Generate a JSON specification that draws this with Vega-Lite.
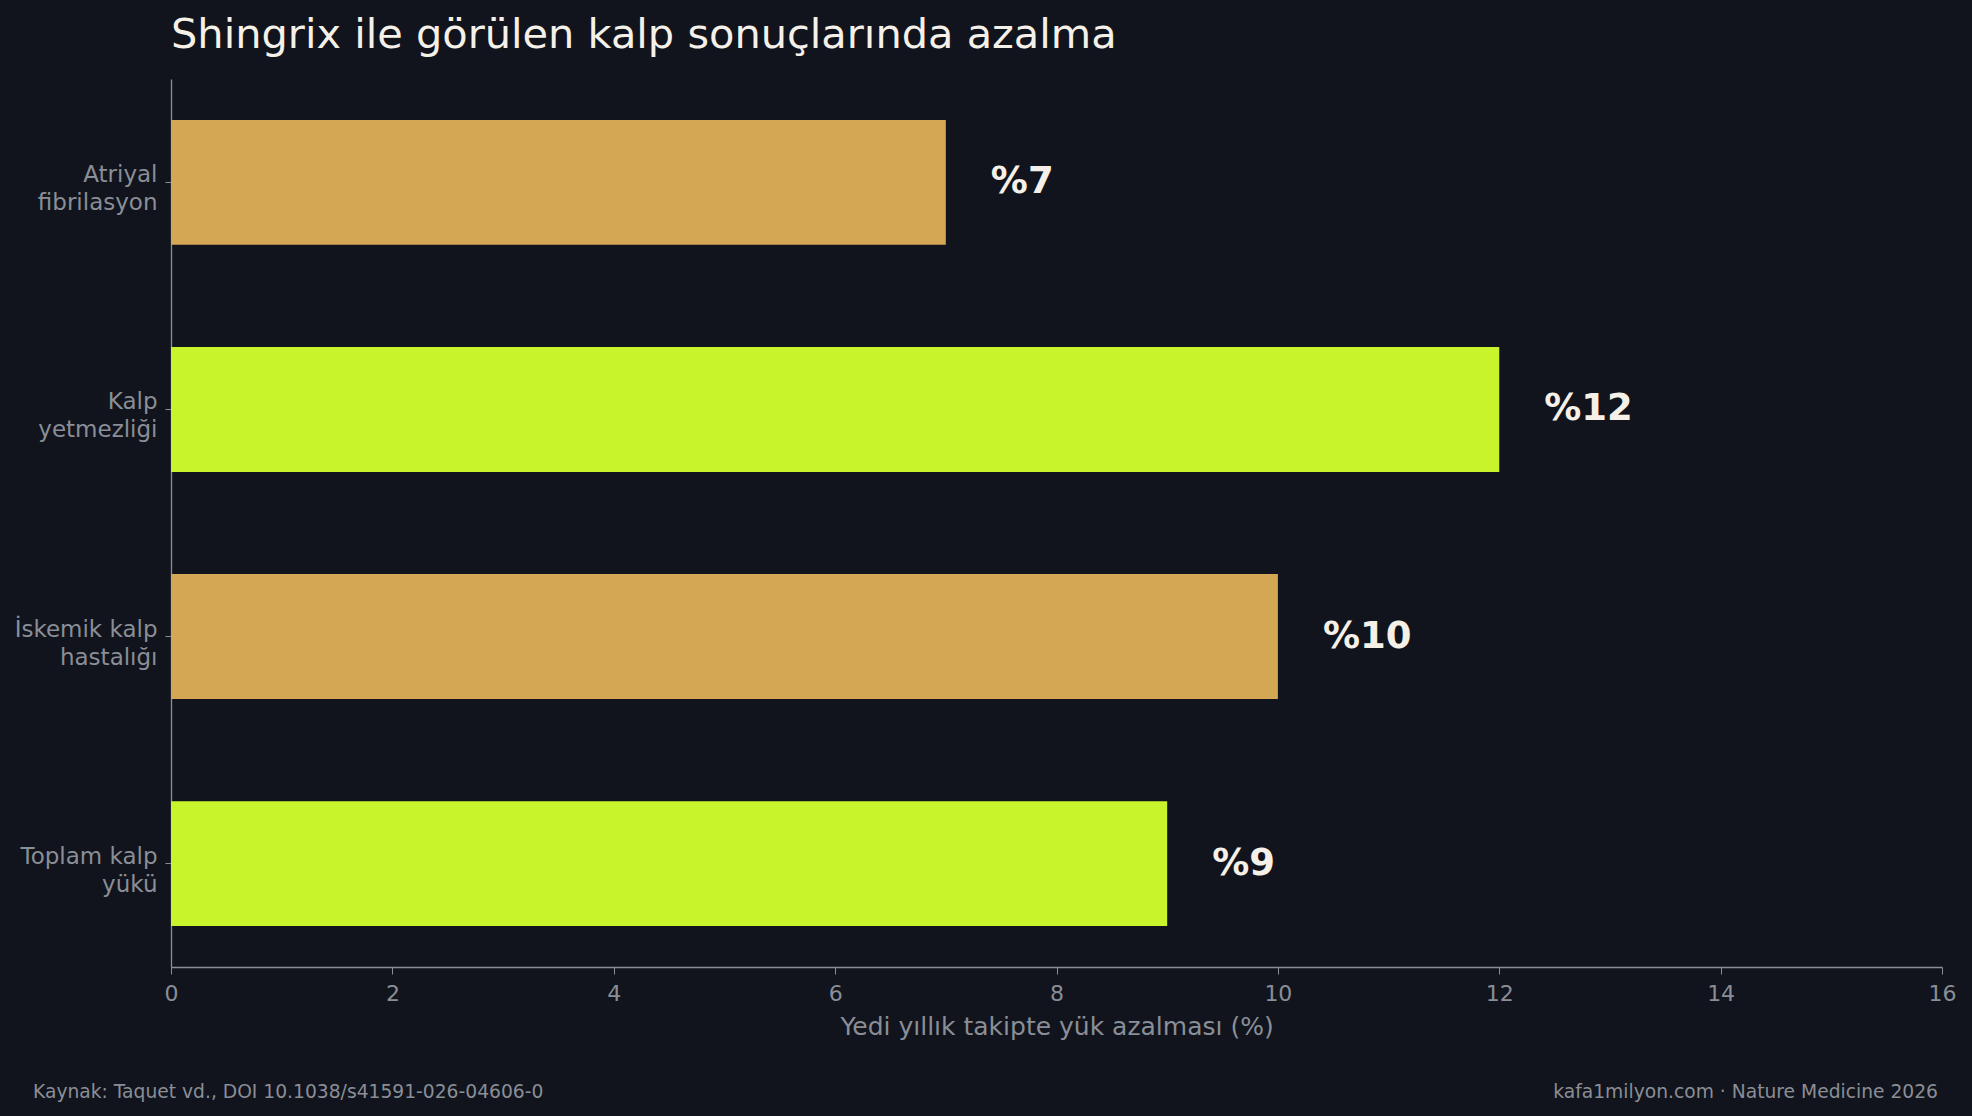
{
  "$schema": "https://vega.github.io/schema/vega-lite/v6.json",
  "autosize": "none",
  "width": 1771,
  "height": 888,
  "padding": {"left": 171, "top": 79, "right": 30, "bottom": 149},
  "background": "#11141c",
  "config": {
    "view": {"stroke": null},
    "font": "DejaVu Sans"
  },
  "datasets": {
    "bars": [
      {"outcome": "Atriyal\nfibrilasyon", "reduction": 7},
      {"outcome": "Kalp\nyetmezliği", "reduction": 12},
      {"outcome": "İskemik kalp\nhastalığı", "reduction": 10},
      {"outcome": "Toplam kalp\nyükü", "reduction": 9}
    ],
    "notes": [
      {"side": "title", "note": "Shingrix ile görülen kalp sonuçlarında azalma"},
      {"side": "left", "note": "Kaynak: Taquet vd., DOI 10.1038/s41591-026-04606-0"},
      {"side": "right", "note": "kafa1milyon.com · Nature Medicine 2026"}
    ]
  },
  "layer": [
    {
      "data": {"name": "bars"},
      "mark": {"type": "bar"},
      "encoding": {
        "y": {
          "field": "outcome",
          "type": "nominal",
          "sort": null,
          "title": null,
          "scale": {"paddingInner": 0.45, "paddingOuter": 0.18},
          "axis": {
            "labelExpr": "split(datum.value, '\\n')",
            "labelFontSize": 23,
            "labelLineHeight": 28,
            "labelColor": "#8a8e97",
            "labelPadding": 8,
            "labelOffset": -7,
            "tickSize": 6,
            "tickColor": "#8a8e97",
            "domainColor": "#8a8e97",
            "domainWidth": 1.3
          }
        },
        "x": {
          "field": "reduction",
          "type": "quantitative",
          "title": "Yedi yıllık takipte yük azalması (%)",
          "scale": {"domain": [0, 16], "nice": false},
          "axis": {
            "values": [0, 2, 4, 6, 8, 10, 12, 14, 16],
            "format": "d",
            "grid": false,
            "labelFlush": false,
            "labelFontSize": 22,
            "labelColor": "#8a8e97",
            "labelPadding": 9,
            "tickSize": 7,
            "tickColor": "#8a8e97",
            "domainColor": "#8a8e97",
            "domainWidth": 1.3,
            "titleFontSize": 25,
            "titleFontWeight": "normal",
            "titleColor": "#8a8e97",
            "titlePadding": 10
          }
        },
        "color": {
          "field": "outcome",
          "type": "nominal",
          "scale": {
            "domain": ["Atriyal\nfibrilasyon", "Kalp\nyetmezliği", "İskemik kalp\nhastalığı", "Toplam kalp\nyükü"],
            "range": ["#d4a755", "#c8f42c", "#d4a755", "#c8f42c"]
          },
          "legend": null
        }
      }
    },
    {
      "data": {"name": "bars"},
      "transform": [
        {"calculate": "'%' + datum.reduction", "as": "label"}
      ],
      "mark": {
        "type": "text",
        "align": "left",
        "baseline": "middle",
        "dx": 45,
        "fontSize": 37,
        "fontWeight": "bold",
        "color": "#f5f0e8"
      },
      "encoding": {
        "y": {"field": "outcome", "type": "nominal", "sort": null},
        "x": {"field": "reduction", "type": "quantitative"},
        "text": {"field": "label"}
      }
    },
    {
      "data": {"name": "notes"},
      "transform": [{"filter": "datum.side === 'title'"}],
      "mark": {
        "type": "text",
        "align": "left",
        "baseline": "alphabetic",
        "fontSize": 41.5,
        "color": "#f5f0e8"
      },
      "encoding": {
        "x": {"value": 0},
        "y": {"value": -31},
        "text": {"field": "note"}
      }
    },
    {
      "data": {"name": "notes"},
      "transform": [{"filter": "datum.side === 'left'"}],
      "mark": {
        "type": "text",
        "align": "left",
        "baseline": "alphabetic",
        "fontSize": 18.7,
        "color": "#8a8e97"
      },
      "encoding": {
        "x": {"value": -138},
        "y": {"value": 1019},
        "text": {"field": "note"}
      }
    },
    {
      "data": {"name": "notes"},
      "transform": [{"filter": "datum.side === 'right'"}],
      "mark": {
        "type": "text",
        "align": "right",
        "baseline": "alphabetic",
        "fontSize": 18.7,
        "color": "#8a8e97"
      },
      "encoding": {
        "x": {"value": 1767},
        "y": {"value": 1019},
        "text": {"field": "note"}
      }
    }
  ]
}
